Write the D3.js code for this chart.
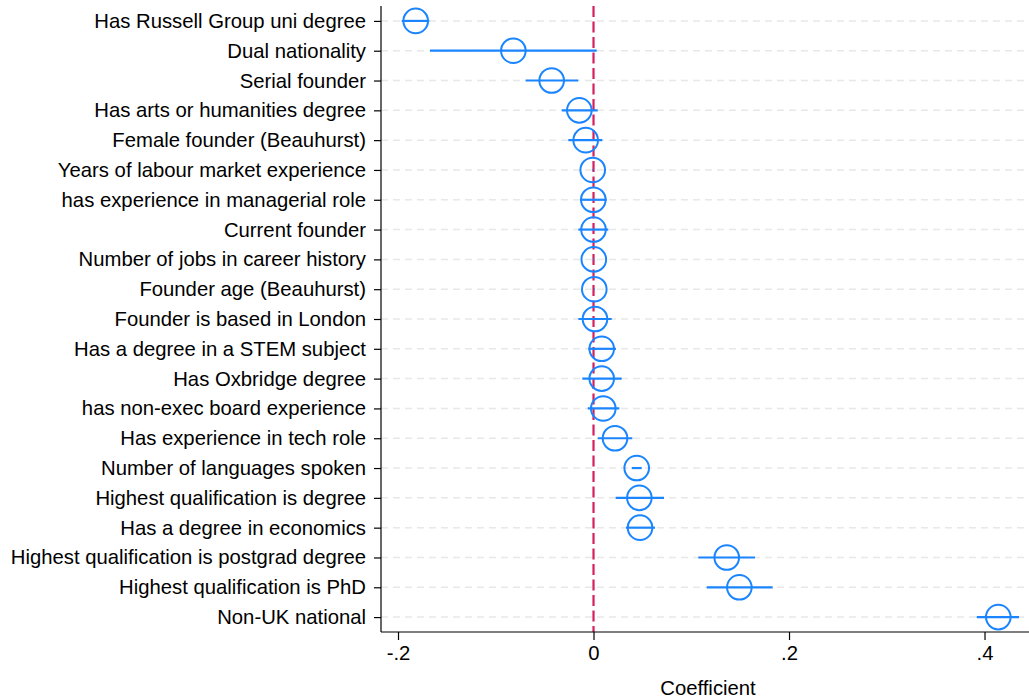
<!DOCTYPE html>
<html>
<head>
<meta charset="utf-8">
<script src="https://cdn.jsdelivr.net/npm/d3@7"></script>
<style>
  body { margin: 0; background: #fff; }
  svg { display: block; font-family: "Liberation Sans", Arial, sans-serif; }
</style>
</head>
<body>
<svg width="1029" height="700"></svg>
<script>
// Coefficient plot data
var labels = [
  "Has Russell Group uni degree",
  "Dual nationality",
  "Serial founder",
  "Has arts or humanities degree",
  "Female founder (Beauhurst)",
  "Years of labour market experience",
  "has experience in managerial role",
  "Current founder",
  "Number of jobs in career history",
  "Founder age (Beauhurst)",
  "Founder is based in London",
  "Has a degree in a STEM subject",
  "Has Oxbridge degree",
  "has non-exec board experience",
  "Has experience in tech role",
  "Number of languages spoken",
  "Highest qualification is degree",
  "Has a degree in economics",
  "Highest qualification is postgrad degree",
  "Highest qualification is PhD",
  "Non-UK national"
];
var coef = [-0.1819, -0.0820, -0.0428, -0.0145, -0.0080, -0.0008, -0.0002, 0.0000, 0.0003, 0.0008,
            0.0015, 0.0084, 0.0084, 0.0100, 0.0220, 0.0442, 0.0469, 0.0476, 0.1363, 0.1492, 0.4141];
var ciLow = [-0.1962, -0.1673, -0.0694, -0.0325, -0.0258, -0.0012, -0.0138, -0.0155, -0.0001, 0.0004,
             -0.0155, -0.0053, -0.0115, -0.0059, 0.0043, 0.0391, 0.0227, 0.0332, 0.1072, 0.1158, 0.3920];
var ciHigh = [-0.1680, 0.0033, -0.0156, 0.0043, 0.0090, -0.0004, 0.0135, 0.0151, 0.0007, 0.0012,
              0.0186, 0.0230, 0.0288, 0.0264, 0.0397, 0.0493, 0.0721, 0.0629, 0.1652, 0.1833, 0.4353];
var xTicks = [-0.2, 0, 0.2, 0.4];

var svg = d3.select("svg"),
    width = +svg.attr("width"),
    height = +svg.attr("height");

var plotLeft = 381, plotRight = 1029, plotTop = 6, plotBottom = 632;

var x = d3.scaleLinear()
    .domain([-0.2174, 0.4455])
    .range([plotLeft, plotRight]);

var y = d3.scalePoint()
    .domain(labels)
    .range([plotTop, plotBottom])
    .padding(0.5);

var rows = labels.map(function (d, i) {
  return { label: d, b: coef[i], lo: ciLow[i], hi: ciHigh[i] };
});

// gridlines
svg.append("g")
    .selectAll("line")
    .data(labels)
    .enter().append("line")
    .attr("x1", plotLeft).attr("x2", plotRight)
    .attr("y1", d => y(d)).attr("y2", d => y(d))
    .attr("stroke", "#e8e8e8")
    .attr("stroke-width", 1.5)
    .attr("stroke-dasharray", "7,5");

// zero reference line
svg.append("line")
    .attr("x1", x(0)).attr("x2", x(0))
    .attr("y1", plotTop).attr("y2", plotBottom)
    .attr("stroke", "#d51f5e")
    .attr("stroke-width", 2.2)
    .attr("stroke-dasharray", "11,4.5");

// confidence intervals
svg.append("g")
    .selectAll("line")
    .data(rows)
    .enter().append("line")
    .attr("x1", d => x(d.lo)).attr("x2", d => x(d.hi))
    .attr("y1", d => y(d.label)).attr("y2", d => y(d.label))
    .attr("stroke", "#1a85ff")
    .attr("stroke-width", 2.2);

// point estimates
svg.append("g")
    .selectAll("circle")
    .data(rows)
    .enter().append("circle")
    .attr("cx", d => x(d.b))
    .attr("cy", d => y(d.label))
    .attr("r", 12.3)
    .attr("fill", "none")
    .attr("stroke", "#1a85ff")
    .attr("stroke-width", 2);

// axes
var yAxis = svg.append("g")
    .attr("transform", "translate(" + plotLeft + ",0)")
    .call(d3.axisLeft(y).tickSize(7).tickPadding(8));
yAxis.select(".domain").attr("d", "M0," + plotTop + "V" + plotBottom);

var xAxis = svg.append("g")
    .attr("transform", "translate(0," + plotBottom + ")")
    .call(d3.axisBottom(x).tickValues(xTicks).tickSize(8).tickPadding(6)
      .tickFormat(d => d === 0 ? "0" : String(d).replace("0.", ".")));
xAxis.select(".domain").attr("d", "M" + plotLeft + ",0H" + plotRight);

svg.selectAll(".tick text")
    .attr("font-size", 20.3)
    .attr("font-family", "'Liberation Sans', Arial, sans-serif")
    .attr("fill", "#000");
svg.selectAll(".domain, .tick line")
    .attr("stroke", "#000")
    .attr("stroke-width", 1.2);

svg.append("text")
    .attr("x", (plotLeft + plotRight) / 2 + 3)
    .attr("y", 695)
    .attr("text-anchor", "middle")
    .attr("font-size", 20.3)
    .text("Coefficient");
</script>
</body>
</html>
